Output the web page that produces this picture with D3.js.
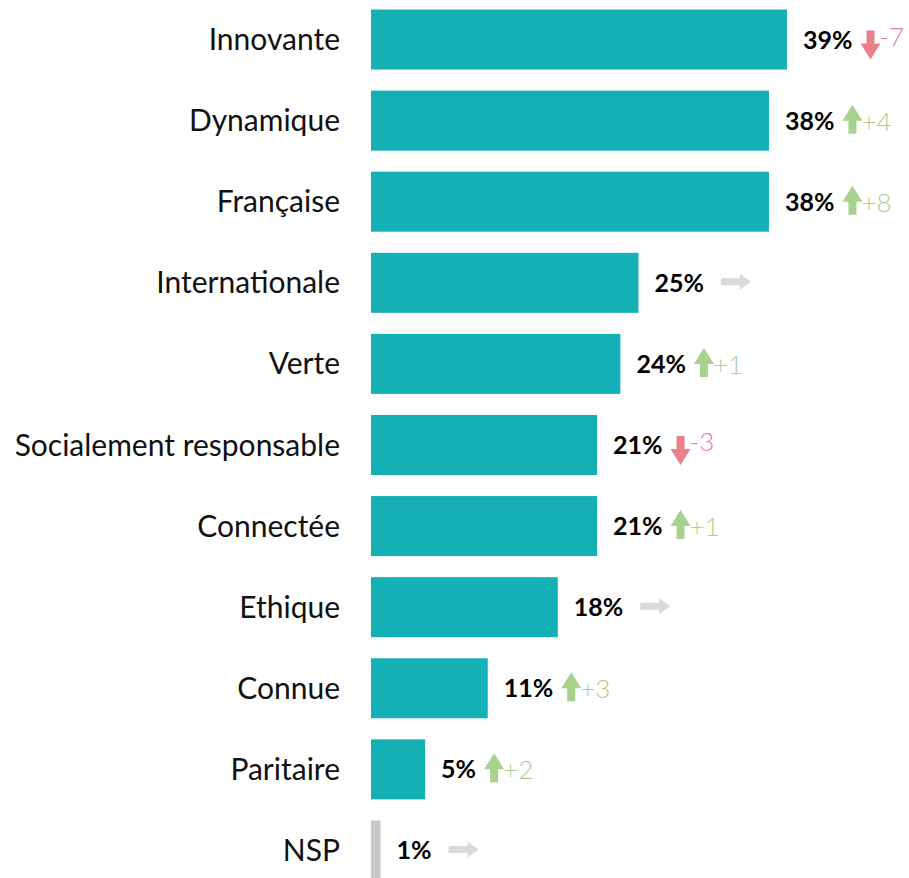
<!DOCTYPE html>
<html lang="fr">
<head>
<meta charset="utf-8">
<title>Image de marque</title>
<script src="https://cdn.jsdelivr.net/npm/d3@7"></script>
<style>
body { margin: 0; background: #fff; }
text { font-family: Lato, "Open Sans", sans-serif; }
</style>
</head>
<body>
<script>
// data
var categories = ["Innovante", "Dynamique", "Française", "Internationale", "Verte",
    "Socialement responsable", "Connectée", "Ethique", "Connue", "Paritaire", "NSP"];
// bar lengths as measured (labels are rounded)
var values = [39.2, 37.5, 37.5, 25.2, 23.5, 21.3, 21.3, 17.6, 11.0, 5.1, 0.9];
var labels = ["39%", "38%", "38%", "25%", "24%", "21%", "21%", "18%", "11%", "5%", "1%"];
// evolution vs previous wave, 0 = stable
var deltas = [-7, 4, 8, 0, 1, -3, 1, 0, 3, 2, 0];

var width = 909, height = 878;
var x0 = 371;

var svg = d3.select("body").append("svg")
    .attr("width", width)
    .attr("height", height);

var xScale = d3.scaleLinear().domain([0, 39.2]).range([x0, 787]);
var yScale = d3.scaleBand().domain(categories).range([-1, 891]).paddingInner(0.26).paddingOuter(0.13);

var rows = svg.selectAll("g.row")
    .data(categories)
    .enter().append("g")
    .attr("class", "row");

// bars
rows.append("rect")
    .attr("x", x0)
    .attr("y", function(d) { return yScale(d); })
    .attr("width", function(d, i) { return xScale(values[i]) - x0; })
    .attr("height", yScale.bandwidth())
    .attr("fill", function(d) { return d == "NSP" ? "#c8c8c8" : "#14b0b5"; });

// category labels
rows.append("text")
    .attr("x", 340)
    .attr("y", function(d) { return yScale(d) + yScale.bandwidth() / 2; })
    .attr("dy", "0.35em")
    .attr("text-anchor", "end")
    .attr("font-size", "30px")
    .attr("fill", "#111")
    .text(function(d) { return d; });

// value labels
var pct = rows.append("text")
    .attr("x", function(d, i) { return xScale(values[i]) + 16; })
    .attr("y", function(d) { return yScale(d) + yScale.bandwidth() / 2; })
    .attr("dy", "0.36em")
    .attr("font-size", "25px")
    .attr("font-weight", "bold")
    .attr("fill", "#000")
    .text(function(d, i) { return labels[i]; });

var upPath = "M0,-15 L10,1 L4,1 L4,14 L-4,14 L-4,1 L-10,1 Z";
var downPath = "M0,15 L10,-1 L4,-1 L4,-14 L-4,-14 L-4,-1 L-10,-1 Z";
var rightPath = "M15,0 L4,-8 L4,-3.5 L-15,-3.5 L-15,3.5 L4,3.5 L4,8 Z";

pct.each(function(d, i) {
    var end = xScale(values[i]) + 16 + this.getComputedTextLength();
    var cy = yScale(d) + yScale.bandwidth() / 2;
    var g = d3.select(this.parentNode);
    var dl = deltas[i];
    if (dl == 0) {
        g.append("path")
            .attr("d", rightPath)
            .attr("transform", "translate(" + (end + 32) + "," + (cy - 1) + ")")
            .attr("fill", "#d9d9d9");
    } else {
        var col = dl > 0 ? "#a9d18e" : "#e8818a";
        g.append("path")
            .attr("d", dl > 0 ? upPath : downPath)
            .attr("transform", "translate(" + (end + 18) + "," + (cy + (dl > 0 ? -1 : 5)) + ")")
            .attr("fill", col);
        g.append("text")
            .attr("x", end + 27)
            .attr("y", cy + (dl > 0 ? 1 : -3))
            .attr("dy", "0.35em")
            .attr("font-size", "26px")
            .attr("font-weight", 300)
            .attr("fill", col)
            .text((dl > 0 ? "+" : "-") + Math.abs(dl));
    }
});
</script>
</body>
</html>
